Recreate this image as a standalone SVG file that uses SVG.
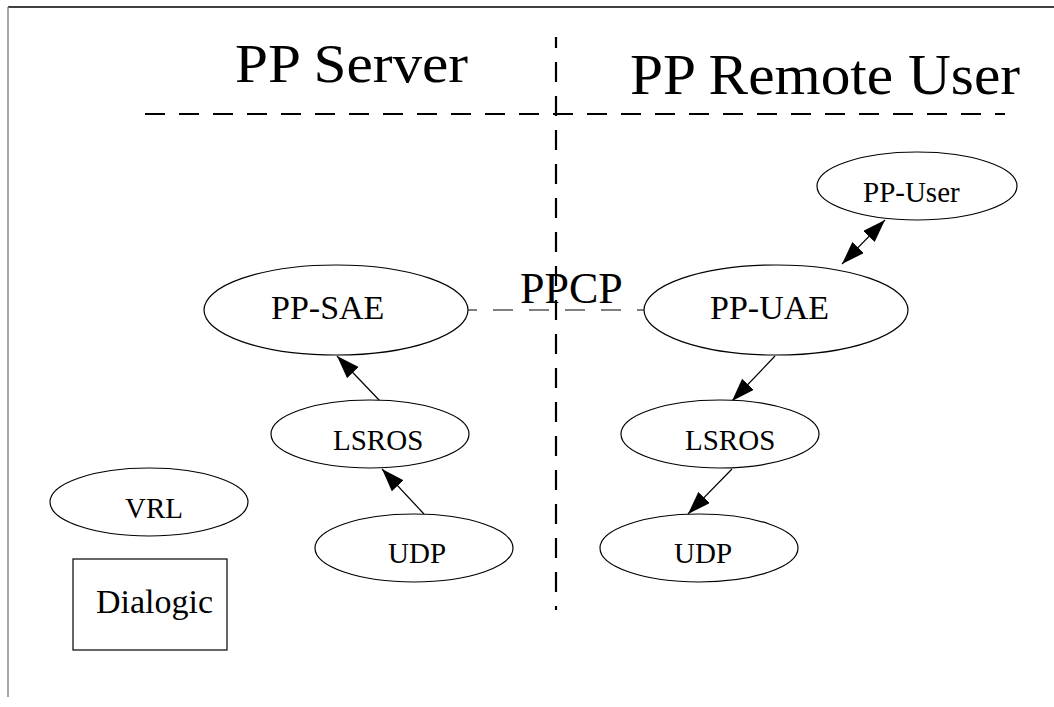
<svg xmlns="http://www.w3.org/2000/svg" width="1054" height="707" viewBox="0 0 1054 707">
<style>
.n{fill:#fff;stroke:#000;stroke-width:1.2}
.t{font-family:"Liberation Serif","Times New Roman",serif;fill:#000}
.e{stroke:#000;stroke-width:1.2;fill:none}
.d{stroke:#000;stroke-width:2.2;fill:none;stroke-dasharray:20 14}
</style>
<defs>
<marker id="ah" markerUnits="userSpaceOnUse" markerWidth="26" markerHeight="18" refX="23" refY="8" orient="auto-start-reverse">
<path d="M0,0 L23,8 L0,16 z" fill="#000"/>
</marker>
</defs>
<rect width="1054" height="707" fill="#fff"/>
<g id="frame">
<line x1="8" y1="7" x2="1054" y2="7" stroke="#000" stroke-width="1.5"/>
<line x1="8" y1="7" x2="8" y2="697" stroke="#888" stroke-width="1.5"/>
</g>
<g id="dividers">
<line class="d" x1="145" y1="114" x2="1005" y2="114"/>
<line class="d" x1="556" y1="37" x2="556" y2="610" stroke-dashoffset="9"/>
</g>
<g id="titles">
<text class="t" x="235" y="82" font-size="54" textLength="233" lengthAdjust="spacingAndGlyphs">PP Server</text>
<text class="t" x="630" y="94" font-size="56" textLength="390" lengthAdjust="spacingAndGlyphs">PP Remote User</text>
</g>
<g id="connectors">
<line x1="468" y1="310" x2="644" y2="310" stroke="#000" stroke-width="1.2" stroke-dasharray="20 16" stroke-dashoffset="11"/>
<line class="e" x1="380" y1="401" x2="337" y2="356" marker-end="url(#ah)"/>
<line class="e" x1="424" y1="514" x2="382" y2="469" marker-end="url(#ah)"/>
<line class="e" x1="775" y1="356" x2="732" y2="401" marker-end="url(#ah)"/>
<line class="e" x1="732" y1="469" x2="688" y2="514" marker-end="url(#ah)"/>
<line class="e" x1="885" y1="220" x2="842" y2="264" marker-start="url(#ah)" marker-end="url(#ah)"/>
<text class="t" x="520" y="303" font-size="44">PPCP</text>
</g>
<g id="PP-SAE">
<ellipse class="n" cx="336" cy="310" rx="132" ry="45"/>
<text class="t" x="271" y="319" font-size="34">PP-SAE</text>
</g>
<g id="PP-UAE">
<ellipse class="n" cx="776" cy="310" rx="132" ry="45"/>
<text class="t" x="710" y="319" font-size="34">PP-UAE</text>
</g>
<g id="PP-User">
<ellipse class="n" cx="917" cy="186" rx="100" ry="34"/>
<text class="t" x="863" y="202" font-size="29">PP-User</text>
</g>
<g id="LSROS-S">
<ellipse class="n" cx="370" cy="434" rx="99" ry="34"/>
<text class="t" x="333" y="450" font-size="29">LSROS</text>
</g>
<g id="UDP-S">
<ellipse class="n" cx="414" cy="548" rx="99" ry="34"/>
<text class="t" x="388" y="563" font-size="29">UDP</text>
</g>
<g id="LSROS-U">
<ellipse class="n" cx="720" cy="434" rx="99" ry="34"/>
<text class="t" x="685" y="450" font-size="29">LSROS</text>
</g>
<g id="UDP-U">
<ellipse class="n" cx="699" cy="548" rx="99" ry="34"/>
<text class="t" x="674" y="563" font-size="29">UDP</text>
</g>
<g id="VRL">
<ellipse class="n" cx="149" cy="502" rx="99" ry="34"/>
<text class="t" x="125" y="518" font-size="29">VRL</text>
</g>
<g id="Dialogic">
<rect class="n" x="73" y="559" width="154" height="91"/>
<text class="t" x="96" y="613" font-size="34">Dialogic</text>
</g>
</svg>
